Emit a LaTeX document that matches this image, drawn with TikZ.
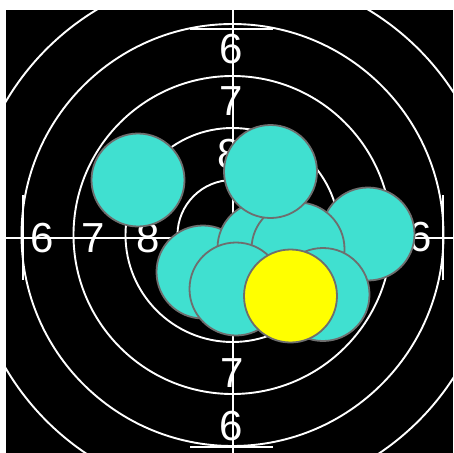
\documentclass[tikz,border=0pt]{standalone}
\usepackage{fontspec}
\setmainfont{Liberation Sans}
\definecolor{turq}{HTML}{40E0D0}
\definecolor{rimgray}{HTML}{6E6E6E}
\definecolor{pureyellow}{HTML}{FFFF00}
\begin{document}
\begin{tikzpicture}[x=1pt,y=-1pt,
  ring/.style={draw=white,line width=1.9pt},
  axisline/.style={draw=white,line width=2pt},
  lbl/.style={text=white,font=\fontsize{42}{42}\selectfont,inner sep=0pt,anchor=center},
  shot/.style={circle,draw=rimgray,line width=1.8pt,fill=turq,minimum size=93pt,inner sep=0pt},
  hit/.style={shot,fill=pureyellow}]
\useasboundingbox (0,0) rectangle (453,453);
\fill[white] (0,0) rectangle (453,453);
\fill[black] (6,10) rectangle (453,453);
\begin{scope}
\clip (6,10) rectangle (453,453);
\coordinate (ctr) at (232.5,235);
\foreach \r in {55,107,159,211,263}{
  \draw[ring] (ctr) circle[radius=\r];
}
\draw[axisline] (233,10) -- (233,453);
\draw[axisline] (6,238) -- (453,238);
\draw[axisline] (190,29) -- (273,29);
\draw[axisline] (190,447) -- (273,447);
\draw[axisline] (23,195) -- (23,280);
\draw[axisline] (443,195) -- (443,280);
\node[lbl] (t6) at (231,49) {6};
\node[lbl] (t7) at (231,101) {7};
\node[lbl] (t8) at (229,154) {8};
\node[lbl] (l6) at (42,238) {6};
\node[lbl] (l7) at (93,238) {7};
\node[lbl] (l8) at (148,238) {8};
\node[lbl] (r6) at (420,237) {6};
\node[lbl] (b7) at (232,373) {7};
\node[lbl] (b6) at (231,426) {6};
\end{scope}
\node[shot] (s1) at (138,180) {};
\node[shot] (s3) at (368,234) {};
\node[shot] (sa) at (203,272) {};
\node[shot] (sb) at (264,248) {};
\node[shot] (sc) at (298,249) {};
\node[shot] (s2) at (270.5,171.5) {};
\node[shot] (sd) at (236,289) {};
\node[shot] (se) at (323,294.5) {};
\node[hit] (sy) at (290.5,296) {};
\end{tikzpicture}
\end{document}
